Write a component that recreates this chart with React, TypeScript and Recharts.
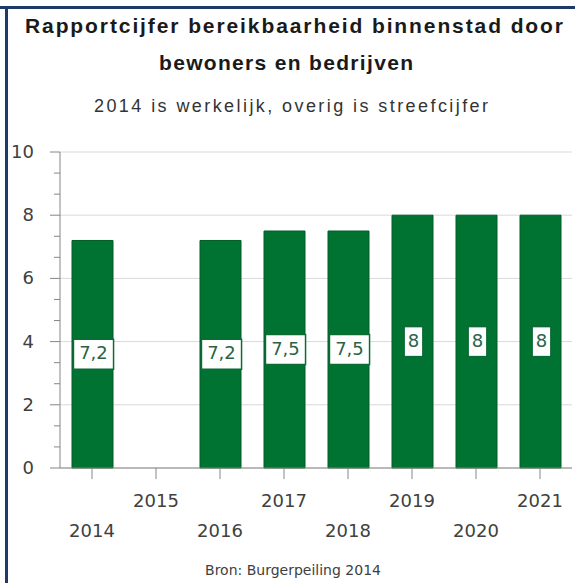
import React from 'react';
import { BarChart, Bar, XAxis, YAxis, CartesianGrid, LabelList } from 'recharts';

const years = ['2014', '2015', '2016', '2017', '2018', '2019', '2020', '2021'];
const scores: (number | null)[] = [7.2, null, 7.2, 7.5, 7.5, 8, 8, 8];
const yTicks = [0, 2, 4, 6, 8, 10];

const titleLines = ['Rapportcijfer bereikbaarheid binnenstad door', 'bewoners en bedrijven'];
const subtitle = '2014 is werkelijk, overig is streefcijfer';
const source = 'Bron: Burgerpeiling 2014';

const data = years.map((year, i) => ({ year, score: scores[i] }));

// two minor ticks between every pair of major ticks
const minorTicks: number[] = [];
for (let i = 0; i < yTicks.length - 1; i++) {
  const step = (yTicks[i + 1] - yTicks[i]) / 3;
  minorTicks.push(yTicks[i] + step, yTicks[i] + 2 * step);
}
const allYTicks = [...yTicks, ...minorTicks].sort((a, b) => a - b);

const axisGray = '#868686';
const tickText = '#404040';
const green = '#007332';
const labelFont = '"DejaVu Sans", Verdana, sans-serif';
const titleFont = '"Liberation Sans", Arial, sans-serif';

const fmt = (v: number) => String(v).replace('.', ',');

const YTick = (props: any) => {
  const { x, y, payload } = props;
  const major = yTicks.includes(payload.value);
  return (
    <g>
      <line x1={x - (major ? 10 : 6)} x2={x} y1={y} y2={y} stroke={axisGray} />
      {major && (
        <text x={x - 26} y={y + 6} textAnchor="end" fontSize={18} fill={tickText} fontFamily={labelFont}>
          {payload.value}
        </text>
      )}
    </g>
  );
};

const XTick = (props: any) => {
  const { x, y, payload, index } = props;
  const low = index % 2 === 0;
  return (
    <g>
      <line x1={x} x2={x} y1={y} y2={y + 11} stroke={axisGray} />
      <text x={x} y={y + (low ? 69 : 39)} textAnchor="middle" fontSize={18} fill={tickText} fontFamily={labelFont}>
        {payload.value}
      </text>
    </g>
  );
};

const ValueBox = (props: any) => {
  const { x, y, width, height, value } = props;
  if (value == null) return null;
  const text = fmt(value);
  const w = 8 + 10.7 * text.length;
  const h = 30;
  const cx = x + width / 2 + 1;
  const cy = y + height / 2;
  return (
    <g>
      <rect x={cx - w / 2} y={cy - h / 2} width={w} height={h} fill="#ffffff" stroke="#0b6b35" strokeWidth={1.5} />
      <text x={cx} y={cy + 5} textAnchor="middle" fontSize={18} fill="#2a6446" fontFamily={labelFont}>
        {text}
      </text>
    </g>
  );
};

export default function App() {
  return (
    <div style={{ position: 'absolute', left: 0, top: 0, width: 575, height: 583, background: '#ffffff' }}>
      <BarChart
        width={575}
        height={583}
        data={data}
        margin={{ top: 152, right: 3, left: 0, bottom: 55 }}
        barSize={41}
      >
        <CartesianGrid vertical={false} stroke="#d9d9d9" horizontalValues={yTicks} />
        <XAxis
          dataKey="year"
          height={60}
          axisLine={{ stroke: axisGray }}
          tickLine={false}
          tickSize={0}
          tickMargin={0}
          tick={<XTick />}
          interval={0}
        />
        <YAxis
          width={60}
          domain={[0, 10]}
          ticks={allYTicks}
          interval={0}
          axisLine={{ stroke: axisGray }}
          tickLine={false}
          tickSize={0}
          tickMargin={0}
          tick={<YTick />}
        />
        <YAxis yAxisId="frame" orientation="right" width={0} tick={false} tickLine={false} axisLine={{ stroke: '#d9d9d9' }} />
        <Bar dataKey="score" fill={green} stroke="#005c28" strokeWidth={1} isAnimationActive={false}>
          <LabelList dataKey="score" content={<ValueBox />} />
        </Bar>
      </BarChart>
      <svg width={575} height={583} style={{ position: 'absolute', left: 0, top: 0, pointerEvents: 'none' }}>
        <line x1={0} x2={575} y1={7.5} y2={7.5} stroke="#1f3a68" strokeWidth={3} />
        <line x1={6.5} x2={6.5} y1={6} y2={583} stroke="#1f3a68" strokeWidth={3} />
        <text x={25} y={33} textLength={538} lengthAdjust="spacing" fontSize={21} fontWeight="bold" fill="#1a1a1a" fontFamily={titleFont}>
          {titleLines[0]}
        </text>
        <text x={159} y={70} textLength={254} lengthAdjust="spacing" fontSize={21} fontWeight="bold" fill="#1a1a1a" fontFamily={titleFont}>
          {titleLines[1]}
        </text>
        <text x={94} y={112} textLength={394} lengthAdjust="spacing" fontSize={18} fill="#333333" fontFamily={titleFont}>
          {subtitle}
        </text>
        <text x={293} y={575} textAnchor="middle" fontSize={14} fill="#404040" fontFamily={labelFont}>
          {source}
        </text>
      </svg>
    </div>
  );
}
